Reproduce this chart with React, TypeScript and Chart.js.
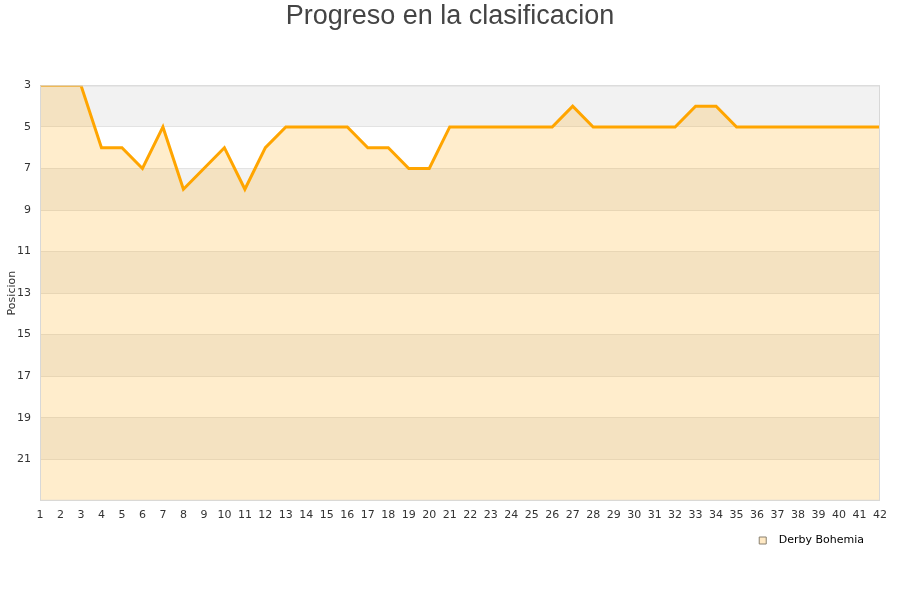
import { useEffect, useRef } from "react";
import { Chart, registerables } from "chart.js";

Chart.register(...registerables);

const jornadas = [
  "1", "2", "3", "4", "5", "6", "7", "8", "9", "10", "11", "12", "13", "14",
  "15", "16", "17", "18", "19", "20", "21", "22", "23", "24", "25", "26", "27", "28",
  "29", "30", "31", "32", "33", "34", "35", "36", "37", "38", "39", "40", "41", "42",
];
const posiciones = [
  3, 3, 3, 6, 6, 7, 5, 8, 7, 6, 8, 6, 5, 5,
  5, 5, 6, 6, 7, 7, 5, 5, 5, 5, 5, 5, 4, 5,
  5, 5, 5, 5, 4, 4, 5, 5, 5, 5, 5, 5, 5, 5,
];
const equipo = "Derby Bohemia";
const titulo = "Progreso en la clasificacion";

const FILL = "rgba(255,165,0,0.2)";

// alternating grey/white bands every 2 positions, plus the plot frame
const bandsPlugin = {
  id: "bands",
  beforeDraw(chart) {
    const { ctx, chartArea: a, scales } = chart;
    const y = scales.y;
    ctx.save();
    for (let v = 3, i = 0; v < 23; v += 2, i++) {
      const top = y.getPixelForValue(v);
      const bot = y.getPixelForValue(v + 2);
      ctx.fillStyle = i % 2 === 0 ? "#f2f2f2" : "#ffffff";
      ctx.fillRect(a.left, top, a.right - a.left, bot - top);
    }
    ctx.restore();
  },
  afterDraw(chart) {
    const { ctx, chartArea: a } = chart;
    ctx.save();
    ctx.strokeStyle = "#d8d8d8";
    ctx.lineWidth = 1;
    ctx.strokeRect(a.left + 0.5, a.top + 0.5, a.right - a.left - 1, a.bottom - a.top - 1);
    ctx.restore();
  },
};

export default function App() {
  const canvasRef = useRef<HTMLCanvasElement>(null);

  useEffect(() => {
    if (!canvasRef.current) return;
    const chart = new Chart(canvasRef.current, {
      type: "line",
      data: {
        labels: jornadas,
        datasets: [
          {
            label: equipo,
            data: posiciones,
            borderColor: "#ffa500",
            backgroundColor: FILL,
            borderWidth: 3,
            pointRadius: 0,
            fill: "start",
            tension: 0,
          },
        ],
      },
      options: {
        animation: false,
        responsive: false,
        layout: { padding: { left: 0, right: 0, top: 0, bottom: 44 } },
        plugins: {
          title: {
            display: true,
            text: titulo,
            color: "#444444",
            font: { family: "Liberation Sans", size: 27, weight: "normal" },
            padding: { top: 0, bottom: 53 },
          },
          legend: {
            position: "bottom",
            align: "end",
            labels: {
              color: "#000000",
              font: { family: "DejaVu Sans", size: 11 },
              boxWidth: 7,
              boxHeight: 7,
              // second, empty entry only keeps the legend off the right edge
              generateLabels: () => [
                {
                  text: "  " + equipo,
                  fillStyle: "#ffe9c4",
                  strokeStyle: "#8a8070",
                  lineWidth: 1,
                  datasetIndex: 0,
                },
                {
                  text: " ",
                  fillStyle: "rgba(0,0,0,0)",
                  strokeStyle: "rgba(0,0,0,0)",
                  lineWidth: 0,
                  datasetIndex: 0,
                },
              ],
            },
          },
          tooltip: { enabled: false },
        },
        scales: {
          x: {
            offset: false,
            grid: { display: false },
            border: { display: false },
            ticks: {
              color: "#333333",
              font: { family: "DejaVu Sans", size: 11 },
              maxRotation: 0,
              autoSkip: false,
              padding: 0,
            },
            afterFit: (s) => {
              s.height += 3;
            },
          },
          y: {
            reverse: true,
            min: 3,
            max: 23,
            border: { display: false },
            grid: { color: "#e3e3e3", drawTicks: false },
            title: {
              display: true,
              text: "Posicion",
              color: "#333333",
              font: { family: "DejaVu Sans", size: 11 },
              padding: { top: 6, bottom: 0 },
            },
            ticks: {
              stepSize: 2,
              color: "#333333",
              font: { family: "DejaVu Sans", size: 11 },
              padding: 9,
              callback: (v) => (v === 23 ? "" : v),
            },
            afterFit: (s) => {
              s.width = 40;
            },
          },
          yr: {
            position: "right",
            display: true,
            grid: { display: false },
            border: { display: false },
            ticks: { display: false },
            afterFit: (s) => {
              s.width = 20;
            },
          },
        },
      },
      plugins: [bandsPlugin],
    });
    return () => chart.destroy();
  }, []);

  return (
    <div style={{ position: "absolute", left: 0, top: 0, width: 900, height: 600, background: "#fff" }}>
      <canvas ref={canvasRef} width={900} height={600} />
    </div>
  );
}
